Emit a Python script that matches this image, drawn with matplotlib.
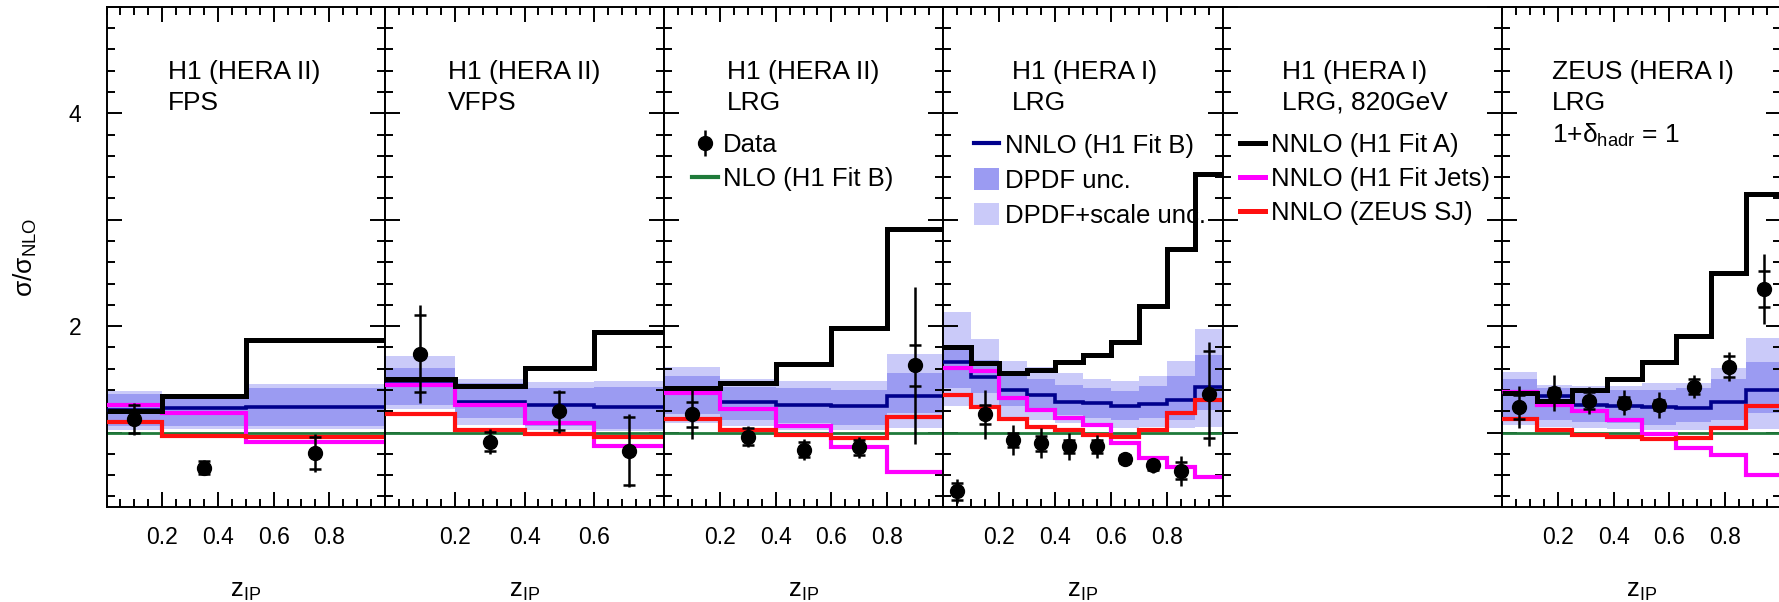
import matplotlib.pyplot as plt
from matplotlib.patches import Patch
from matplotlib.lines import Line2D
from matplotlib.ticker import MultipleLocator, FixedLocator, FuncFormatter, NullLocator

plt.rcParams['font.family'] = ['Liberation Sans', 'DejaVu Sans']
plt.rcParams['mathtext.fontset'] = 'custom'
plt.rcParams['mathtext.rm'] = 'Liberation Sans'
plt.rcParams['mathtext.it'] = 'Liberation Sans:italic'

# H1 (HERA II) FPS
fps_edges = [0.0, 0.2, 0.5, 1.0]
fps_fitA = [1.20, 1.34, 1.865]
fps_fitB = [1.21, 1.23, 1.235]
fps_jets = [1.26, 1.18, 0.91]
fps_zeus = [1.10, 0.97, 0.96]
fps_dpdf_lo = [1.06, 1.06, 1.06]
fps_dpdf_hi = [1.36, 1.33, 1.42]
fps_scale_lo = [1.02, 1.03, 1.03]
fps_scale_hi = [1.39, 1.36, 1.46]
fps_x = [0.1, 0.35, 0.75]
fps_y = [1.13, 0.67, 0.81]
fps_tot = [0.15, 0.07, 0.18]
fps_stat = [0.13, 0.06, 0.15]

# H1 (HERA II) VFPS
vfps_edges = [0.0, 0.2, 0.4, 0.6, 0.8]
vfps_fitA = [1.50, 1.44, 1.61, 1.94]
vfps_fitB = [1.46, 1.29, 1.255, 1.235]
vfps_jets = [1.45, 1.255, 1.09, 0.87]
vfps_zeus = [1.17, 1.025, 0.99, 0.96]
vfps_dpdf_lo = [1.26, 1.135, 1.06, 1.03]
vfps_dpdf_hi = [1.61, 1.465, 1.42, 1.43]
vfps_scale_lo = [1.22, 1.07, 1.02, 1.01]
vfps_scale_hi = [1.72, 1.50, 1.47, 1.48]
vfps_x = [0.1, 0.3, 0.5, 0.7]
vfps_y = [1.74, 0.915, 1.20, 0.83]
vfps_tot = [0.46, 0.12, 0.20, 0.34]
vfps_stat = [0.36, 0.09, 0.18, 0.32]

# H1 (HERA II) LRG
lrg2_edges = [0.0, 0.2, 0.4, 0.6, 0.8, 1.0]
lrg2_fitA = [1.42, 1.465, 1.645, 1.98, 2.91]
lrg2_fitB = [1.39, 1.29, 1.26, 1.245, 1.34]
lrg2_jets = [1.37, 1.22, 1.06, 0.86, 0.63]
lrg2_zeus = [1.13, 1.02, 0.98, 0.95, 1.145]
lrg2_dpdf_lo = [1.17, 1.12, 1.09, 1.07, 1.18]
lrg2_dpdf_hi = [1.53, 1.43, 1.42, 1.40, 1.56]
lrg2_scale_lo = [1.09, 1.06, 1.025, 1.02, 1.04]
lrg2_scale_hi = [1.62, 1.50, 1.48, 1.48, 1.74]
lrg2_x = [0.1, 0.3, 0.5, 0.7, 0.9]
lrg2_y = [1.17, 0.96, 0.84, 0.86, 1.63]
lrg2_tot = [0.23, 0.10, 0.10, 0.10, 0.74]
lrg2_stat = [0.115, 0.08, 0.07, 0.07, 0.19]

# H1 (HERA I) LRG
lrg1_edges = [0.0, 0.1, 0.2, 0.3, 0.4, 0.5, 0.6, 0.7, 0.8, 0.9, 1.0]
lrg1_fitA = [1.80, 1.65, 1.56, 1.59, 1.66, 1.73, 1.85, 2.19, 2.72, 3.43]
lrg1_fitB = [1.66, 1.52, 1.40, 1.355, 1.29, 1.28, 1.245, 1.27, 1.31, 1.43]
lrg1_jets = [1.61, 1.575, 1.32, 1.21, 1.135, 1.07, 0.90, 0.76, 0.68, 0.58]
lrg1_zeus = [1.355, 1.235, 1.125, 1.055, 1.02, 0.98, 0.96, 1.02, 1.18, 1.31]
lrg1_dpdf_lo = [1.42, 1.37, 1.245, 1.215, 1.165, 1.135, 1.12, 1.135, 1.12, 1.215]
lrg1_dpdf_hi = [1.78, 1.685, 1.53, 1.50, 1.45, 1.42, 1.39, 1.435, 1.53, 1.73]
lrg1_scale_lo = [1.25, 1.245, 1.15, 1.12, 1.09, 1.055, 1.04, 1.055, 1.04, 1.055]
lrg1_scale_hi = [2.13, 1.875, 1.67, 1.62, 1.56, 1.50, 1.48, 1.53, 1.67, 1.97]
lrg1_x = [0.05, 0.15, 0.25, 0.35, 0.45, 0.55, 0.65, 0.75, 0.85, 0.95]
lrg1_y = [0.45, 1.17, 0.93, 0.90, 0.87, 0.87, 0.75, 0.69, 0.64, 1.36]
lrg1_tot = [0.11, 0.23, 0.14, 0.14, 0.13, 0.11, 0.06, 0.07, 0.14, 0.49]
lrg1_stat = [0.08, 0.09, 0.07, 0.07, 0.06, 0.06, 0.04, 0.04, 0.08, 0.41]

# ZEUS (HERA I) LRG
zeus_edges = [0.0, 0.125, 0.25, 0.375, 0.5, 0.625, 0.75, 0.875, 1.0]
zeus_fitA = [1.37, 1.30, 1.40, 1.50, 1.66, 1.91, 2.50, 3.24]
zeus_fitB = [1.37, 1.34, 1.26, 1.25, 1.24, 1.23, 1.29, 1.40]
zeus_jets = [1.38, 1.26, 1.20, 1.12, 0.99, 0.85, 0.79, 0.60]
zeus_zeus = [1.125, 1.02, 0.98, 0.96, 0.94, 0.95, 1.04, 1.245]
zeus_dpdf_lo = [1.15, 1.12, 1.10, 1.09, 1.07, 1.10, 1.12, 1.18]
zeus_dpdf_hi = [1.50, 1.42, 1.40, 1.40, 1.40, 1.42, 1.50, 1.66]
zeus_scale_lo = [1.07, 1.055, 1.04, 1.03, 1.025, 1.025, 1.03, 1.03]
zeus_scale_hi = [1.57, 1.45, 1.44, 1.44, 1.465, 1.465, 1.61, 1.89]
zeus_x = [0.0625, 0.1875, 0.3125, 0.4375, 0.5625, 0.6875, 0.8125, 0.9375]
zeus_y = [1.24, 1.37, 1.30, 1.28, 1.26, 1.43, 1.62, 2.35]
zeus_tot = [0.20, 0.17, 0.13, 0.12, 0.12, 0.11, 0.14, 0.33]
zeus_stat = [0.11, 0.05, 0.08, 0.05, 0.05, 0.07, 0.10, 0.17]

panel_texts = [
    "H1 (HERA II)\nFPS",
    "H1 (HERA II)\nVFPS",
    "H1 (HERA II)\nLRG",
    "H1 (HERA I)\nLRG",
    "H1 (HERA I)\nLRG, 820GeV",
    "ZEUS (HERA I)\nLRG\n1+δ$_{\\rm hadr}$ = 1",
]
text_x = [0.222, 0.226, 0.226, 0.246, 0.211, 0.179]

c_black = 'black'
c_blue = '#00008c'
c_mag = '#ff00ff'
c_red = '#ff1010'
c_green = '#1f7a3a'
c_dark = '#9b9bf2'
c_light = '#cacaf9'

W, H = 1779, 602
xpix = [106.5, 385, 664, 943, 1223, 1502, 1781]
bot = 95 / H
hgt = 500.2 / H

fig = plt.figure(figsize=(W / 100, H / 100), dpi=100)


def style_axes(ax, xmax, minor_x, show_x=True, ylabels=False):
    ax.set_ylim(0.3, 5.0)
    ax.set_xlim(0, xmax)
    ax.yaxis.set_major_locator(MultipleLocator(1))
    ax.yaxis.set_minor_locator(MultipleLocator(0.2))
    if ylabels:
        ax.yaxis.set_major_formatter(FuncFormatter(lambda v, p: f'{v:g}' if v in (2, 4) else ''))
    else:
        ax.set_yticklabels([])
    if show_x:
        ticks = [t for t in [0.2, 0.4, 0.6, 0.8] if t < xmax - 1e-6]
        ax.xaxis.set_major_locator(FixedLocator(ticks))
        ax.xaxis.set_minor_locator(MultipleLocator(minor_x))
        ax.set_xticklabels([f'{t:g}' for t in ticks])
        ax.set_xlabel(r'z$_{\rm IP}$', fontsize=18.5, labelpad=21)
    else:
        ax.xaxis.set_major_locator(NullLocator())
        ax.xaxis.set_minor_locator(NullLocator())
    ax.tick_params(which='both', direction='in', top=show_x, bottom=show_x,
                   left=True, right=True, width=1.4, labelsize=16.5)
    ax.tick_params(which='major', length=10.8, pad=14)
    ax.tick_params(which='minor', length=5.8)
    ax.tick_params(axis='y', which='major', pad=18)
    for s in ax.spines.values():
        s.set_linewidth(1.4)


def draw_panel(ax, edges, fitA, fitB, jets, zeus, dlo, dhi, slo, shi, x, y, tot, stat):
    ax.stairs(shi, edges, baseline=slo, fill=True, color=c_light, lw=0, zorder=1)
    ax.stairs(dhi, edges, baseline=dlo, fill=True, color=c_dark, lw=0, zorder=1.5)
    ax.stairs([1.0] * len(fitA), edges, baseline=None, color=c_green, lw=2.0, zorder=2)
    ax.stairs(fitB, edges, baseline=None, color=c_blue, lw=2.6, zorder=3)
    ax.stairs(jets, edges, baseline=None, color=c_mag, lw=3.0, zorder=3.2)
    ax.stairs(zeus, edges, baseline=None, color=c_red, lw=3.0, zorder=3.4)
    ax.stairs(fitA, edges, baseline=None, color=c_black, lw=3.6, zorder=3.6)
    eb = ax.errorbar(x, y, yerr=tot, fmt='o', color='black', ms=10, elinewidth=1.8,
                     capsize=0, zorder=5)
    ax.errorbar(x, y, yerr=stat, fmt='none', ecolor='black', elinewidth=0,
                capsize=4.6, capthick=1.8, zorder=5)
    return eb


axes = []
for i in range(6):
    ax = fig.add_axes([xpix[i] / W, bot, (xpix[i + 1] - xpix[i]) / W, hgt])
    axes.append(ax)

eb = draw_panel(axes[0], fps_edges, fps_fitA, fps_fitB, fps_jets, fps_zeus,
                fps_dpdf_lo, fps_dpdf_hi, fps_scale_lo, fps_scale_hi,
                fps_x, fps_y, fps_tot, fps_stat)
draw_panel(axes[1], vfps_edges, vfps_fitA, vfps_fitB, vfps_jets, vfps_zeus,
           vfps_dpdf_lo, vfps_dpdf_hi, vfps_scale_lo, vfps_scale_hi,
           vfps_x, vfps_y, vfps_tot, vfps_stat)
draw_panel(axes[2], lrg2_edges, lrg2_fitA, lrg2_fitB, lrg2_jets, lrg2_zeus,
           lrg2_dpdf_lo, lrg2_dpdf_hi, lrg2_scale_lo, lrg2_scale_hi,
           lrg2_x, lrg2_y, lrg2_tot, lrg2_stat)
draw_panel(axes[3], lrg1_edges, lrg1_fitA, lrg1_fitB, lrg1_jets, lrg1_zeus,
           lrg1_dpdf_lo, lrg1_dpdf_hi, lrg1_scale_lo, lrg1_scale_hi,
           lrg1_x, lrg1_y, lrg1_tot, lrg1_stat)
draw_panel(axes[5], zeus_edges, zeus_fitA, zeus_fitB, zeus_jets, zeus_zeus,
           zeus_dpdf_lo, zeus_dpdf_hi, zeus_scale_lo, zeus_scale_hi,
           zeus_x, zeus_y, zeus_tot, zeus_stat)

style_axes(axes[0], 1.0, 0.05, ylabels=True)
style_axes(axes[1], 0.8, 0.04)
style_axes(axes[2], 1.0, 0.05)
style_axes(axes[3], 1.0, 0.05)
style_axes(axes[4], 1.0, 0.05, show_x=False)
style_axes(axes[5], 1.0, 0.05)

for ax, txt, tx in zip(axes, panel_texts, text_x):
    ax.text(tx, 0.893, txt, transform=ax.transAxes, fontsize=19, va='top',
            ha='left', linespacing=1.33, zorder=6)

leg_kw = dict(loc='upper left', frameon=False, fontsize=18.5, handlelength=1.0,
              handletextpad=0.2, labelspacing=0.4, borderpad=0, borderaxespad=0)

l3 = axes[2].legend([eb, Line2D([], [], color=c_green, lw=3)],
                    ['Data', 'NLO (H1 Fit B)'], bbox_to_anchor=(0.10, 0.748), **leg_kw)
l3.set_zorder(0.5)
l4 = axes[3].legend([Line2D([], [], color=c_blue, lw=3),
                     Patch(color=c_dark, lw=0), Patch(color=c_light, lw=0)],
                    ['NNLO (H1 Fit B)', 'DPDF unc.', 'DPDF+scale unc.'],
                    bbox_to_anchor=(0.11, 0.748), handleheight=0.95, **leg_kw)
l4.set_zorder(0.5)
l5 = axes[4].legend([Line2D([], [], color=c_black, lw=3.6),
                     Line2D([], [], color=c_mag, lw=3.6),
                     Line2D([], [], color=c_red, lw=3.6)],
                    ['NNLO (H1 Fit A)', 'NNLO (H1 Fit Jets)', 'NNLO (ZEUS SJ)'],
                    bbox_to_anchor=(0.06, 0.748), **leg_kw)

fig.text(25 / W, 1 - 257 / H, 'σ/σ$_{\\rm NLO}$', rotation=90,
         ha='center', va='center', fontsize=19)

fig.savefig('out.png', dpi=100)
